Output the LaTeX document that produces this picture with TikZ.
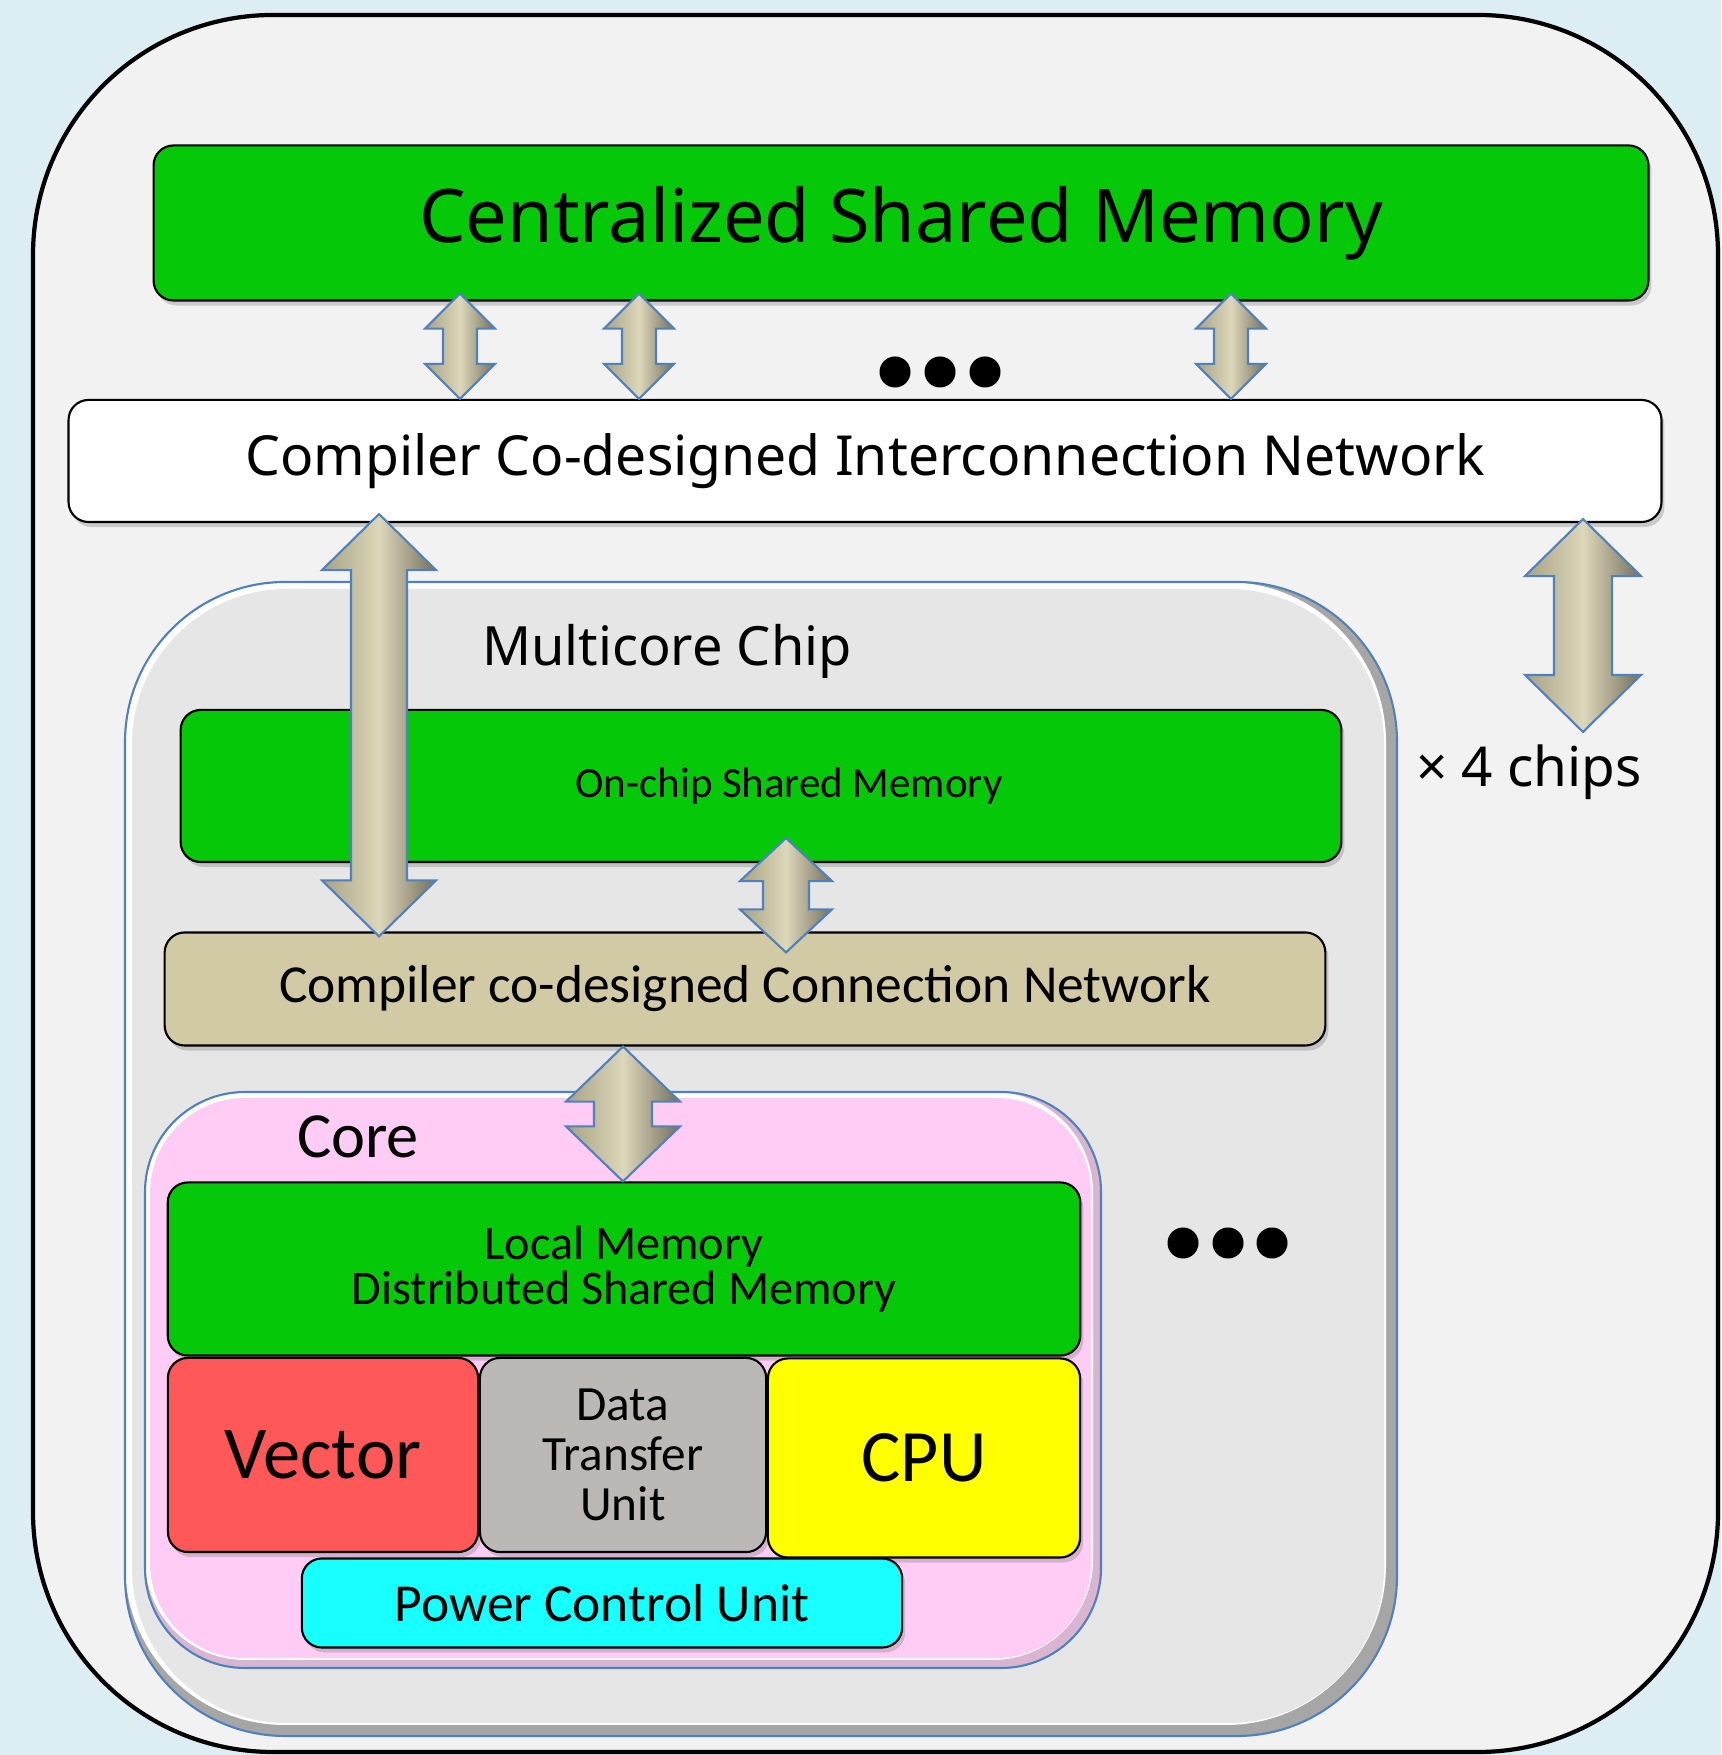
\documentclass[tikz,border=0pt]{standalone}
\usepackage{fontspec}
\setmainfont{Carlito}
\newfontfamily\widefont{Noto Sans}
\usetikzlibrary{calc,shadows}
\definecolor{skyc}{RGB}{220,238,244}
\definecolor{panelc}{RGB}{242,242,242}
\definecolor{memc}{RGB}{4,200,8}
\definecolor{busc}{RGB}{210,202,164}
\definecolor{chipc}{RGB}{230,230,230}
\definecolor{corec}{RGB}{255,204,245}
\definecolor{vecc}{RGB}{255,88,88}
\definecolor{dtuc}{RGB}{188,184,182}
\definecolor{cpuc}{RGB}{255,255,0}
\definecolor{pcuc}{RGB}{24,255,255}
\definecolor{edgec}{RGB}{79,129,189}
\tikzset{blk/.style={draw,line width=.6pt,rounded corners=2mm,inner sep=0pt,align=center,
   drop shadow={shadow xshift=.3mm,shadow yshift=-.5mm,opacity=.35}},
 mem/.style={blk,fill=memc},
 dbl/.style={draw=edgec,line width=.6pt,left color=busc!80!black,right color=busc!55!black,middle color=busc!75!white},
 dot/.style={circle,fill=black,minimum size=3.1mm,inner sep=0pt},
 big/.style={font=\widefont\fontsize{#1}{#1}\selectfont},
 small/.style={font=\fontsize{#1}{#1}\selectfont}}
% double-headed block arrow between two tips on one vertical:
% top tip, bottom tip, head half-width, head length, shaft half-width
\newcommand{\twoway}[5]{%
 \coordinate (tp) at (#1); \coordinate (bt) at (#2);
 \path[dbl] (tp) -- ($(tp)+(#3,-#4)$) -- ($(tp)+(#5,-#4)$) -- ($(bt)+(#5,#4)$) -- ($(bt)+(#3,#4)$)
  -- (bt) -- ($(bt)+(-#3,#4)$) -- ($(bt)+(-#5,#4)$) -- ($(tp)+(-#5,-#4)$) -- ($(tp)+(-#3,-#4)$) -- cycle;}

\begin{document}
\begin{tikzpicture}[x=.01cm,y=.01cm]
\useasboundingbox (0,0) rectangle (1721,1755);
\fill[skyc] (0,0) rectangle (1721,1755);
\draw[line width=1.2pt,fill=panelc,rounded corners=2.4cm] (33,3) rectangle (1718,1740);

% system level
\node[mem,minimum width=14.94cm,minimum height=1.55cm,big=21] (csm) at (901,1532) {Centralized Shared Memory};
\node[blk,fill=white,minimum width=15.92cm,minimum height=1.22cm,big=15.7] (icn) at (865,1294) {Compiler Co-designed Interconnection Network};
\foreach \x in {895,940,985}{\node[dot] (d\x) at (\x,1383) {};}

% one chip
\fill[gray!70,rounded corners=1.6cm] (125,19) rectangle (1397,1173);
\fill[white,rounded corners=1.6cm] (125,30) rectangle (1386,1173);
\fill[chipc,rounded corners=1.55cm] (132,32) rectangle (1384,1166);
\draw[edgec,line width=.6pt,rounded corners=1.6cm] (125,19) rectangle (1397,1173);
\node[big=15.4] (chiplbl) at (667,1104) {Multicore Chip};
\node[mem,minimum width=11.6cm,minimum height=1.52cm,small=12.2] (osm) at (761,969) {\hspace*{.56cm}On-chip Shared Memory};
\node[blk,fill=busc,minimum width=11.6cm,minimum height=1.13cm,small=15.2] (ccn) at (745,766) {Compiler co-designed Connection Network};
\foreach \x in {1183,1228,1272}{\node[dot] (e\x) at (\x,512) {};}
\node[big=15.6] (chipsn) at (1529,983) {× 4 chips};

% one core
\fill[corec!70!gray,rounded corners=1cm] (145,87) rectangle (1101,663);
\fill[white,rounded corners=1cm] (145,95) rectangle (1093,663);
\fill[corec,rounded corners=.95cm] (150,97) rectangle (1091,657);
\draw[edgec,line width=.6pt,rounded corners=1cm] (145,87) rectangle (1101,663);
\node[small=18.3] (corelbl) at (358,618) {Core};
\node[mem,minimum width=9.12cm,minimum height=1.73cm,font=\fontsize{13.7}{12.8}\selectfont] (lm) at (624,486) {Local Memory\\Distributed Shared Memory};
\node[blk,fill=vecc,minimum width=3.1cm,minimum height=1.94cm,small=21.2] (vec) at (323,300) {Vector};
\node[blk,fill=dtuc,minimum width=2.86cm,minimum height=1.94cm,font=\fontsize{14}{14.2}\selectfont] (dtu) at (623,300) {Data\\Transfer\\Unit};
\node[blk,fill=cpuc,minimum width=3.12cm,minimum height=1.99cm,small=21] (cpu) at (924,297) {CPU};
\node[blk,fill=pcuc,minimum width=6cm,minimum height=.89cm,small=15.2] (pcu) at (602,152) {Power Control Unit};

% links
\foreach \x in {460,639,1231}{\twoway{$(csm.south -| \x,0)+(0,8)$}{icn.north -| \x,0}{35}{35}{17}}
\twoway{$(icn.south -| 379,0)+(0,9)$}{$(ccn.north -| 379,0)+(0,-5)$}{57}{56}{28}
\coordinate (chipsend) at (1583,1023);
\twoway{$(icn.south -| chipsend)+(0,4)$}{chipsend}{58}{57}{29}
\twoway{$(osm.south -| 786,0)+(0,25)$}{$(ccn.north -| 786,0)+(0,-21)$}{46}{43}{23}
\twoway{ccn.south -| 623,0}{lm.north -| 623,0}{57}{55}{29}
\end{tikzpicture}
\end{document}
